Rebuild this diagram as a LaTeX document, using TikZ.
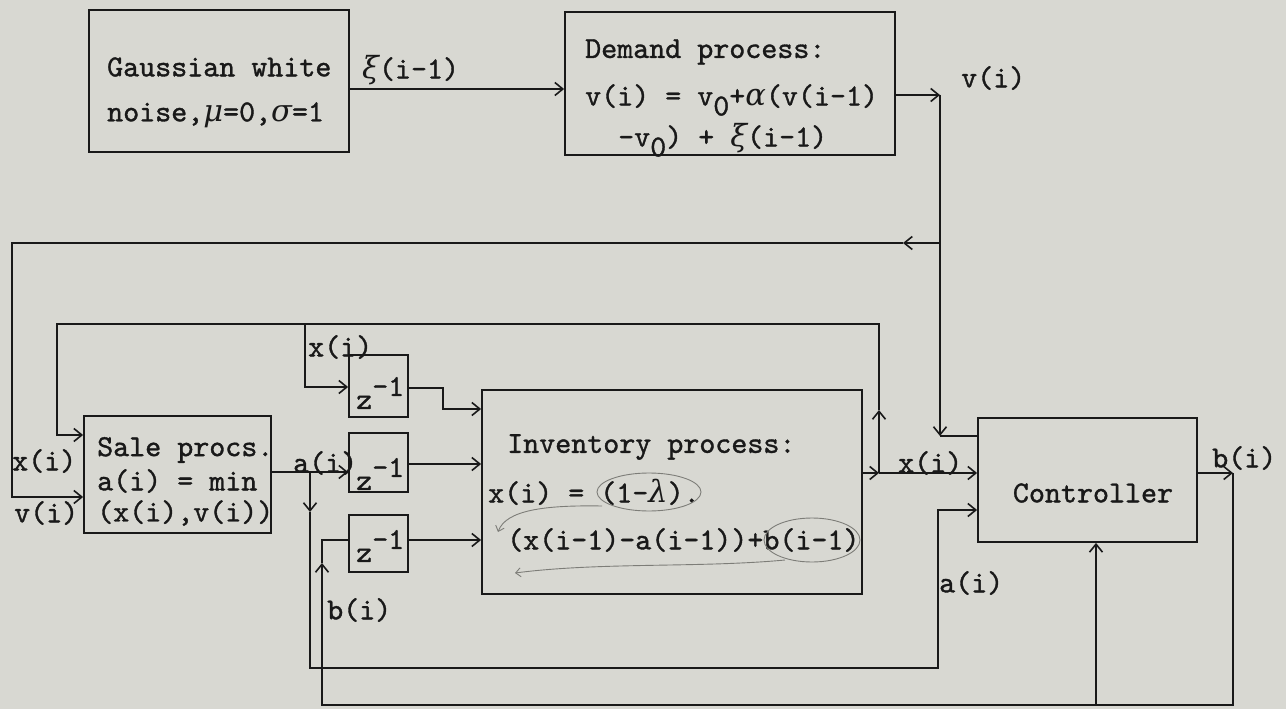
\documentclass[tikz,border=0pt]{standalone}
\usepackage{fontspec}
\usetikzlibrary{arrows.meta}
\newfontfamily\twfont{lmmono10-regular.otf}[FakeBold=1.2]
\newfontfamily\gk{DejaVu Serif}
\newcommand\tws{\twfont\fontsize{30.5pt}{36pt}\selectfont}
\newcommand\gr[1]{{\gk\itshape #1}}
\definecolor{paper}{RGB}{216,216,210}
\definecolor{ink}{RGB}{25,25,25}
\definecolor{pencilc}{RGB}{125,125,120}
\tikzset{
  box/.style={draw=ink, line width=1.8pt, rectangle, inner sep=0pt},
  txt/.style={inner sep=0pt, anchor=west, font=\tws, text=ink},
  wire/.style={draw=ink, line width=1.6pt},
  arr/.style={wire, -{Straight Barb[length=8pt,width=13pt,line width=1.6pt]}},
  pencil/.style={draw=pencilc, line width=0.9pt},
  parr/.style={pencil, -{Straight Barb[length=5pt,width=9pt,line width=0.9pt]}}
}
\begin{document}
\begin{tikzpicture}[x=1pt,y=-1pt]
\fill[paper] (0,0) rectangle (1286,709);
\useasboundingbox (0,0) rectangle (1286,709);

% boxes
\node[box, minimum width=260pt, minimum height=142pt] (gauss) at (219,81) {};
\node[box, minimum width=330pt, minimum height=143pt] (demand) at (730,83.5) {};
\node[box, minimum width=187pt, minimum height=117pt] (sale) at (177.5,474.5) {};
\node[box, minimum width=59pt, minimum height=62pt] (z1) at (378.5,386) {};
\node[box, minimum width=59pt, minimum height=59pt] (z2) at (378.5,462.5) {};
\node[box, minimum width=59pt, minimum height=57pt] (z3) at (378.5,543.5) {};
\node[box, minimum width=380pt, minimum height=204pt] (inv) at (672,492) {};
\node[box, minimum width=219pt, minimum height=124pt] (ctrl) at (1087.5,480) {};

% box texts
\node[txt] (g1) at (107,67) {Gaussian white};
\node[txt] (g2) at (107,115) {noise,\gr{μ}=0,\gr{σ}=1};
\node[txt] (d1) at (585,52) {Demand process:};
\node[txt] (d2) at (585,100) {v(i) = v\raisebox{-10pt}{0}+\gr{α}(v(i-1)};
\node[txt] (d3) at (618,140) {-v\raisebox{-10pt}{0}) + \gr{ξ}(i-1)};
\node[txt] (s1) at (97,450) {Sale procs.};
\node[txt] (s2) at (97,481) {a(i) = min};
\node[txt] (s3) at (97,513) {(x(i),v(i))};
\node[txt] (z1t) at (356,393) {z\raisebox{13pt}{-1}};
\node[txt] (z2t) at (356,474) {z\raisebox{13pt}{-1}};
\node[txt] (z3t) at (356,546) {z\raisebox{13pt}{-1}};
\node[txt] (i1) at (507,447) {Inventory process:};
\node[txt] (i2) at (488,492) {x(i) = (1-\gr{λ}).};
\node[txt] (i3) at (507,540) {(x(i-1)-a(i-1))+b(i-1)};
\node[txt, anchor=center] (c1) at (1093,493) {Controller};

% signal labels
\node[txt] (lxi) at (362,70) {\gr{ξ}(i-1)};
\node[txt] (lv) at (961,78) {v(i)};
\node[txt] (lxz) at (308,347) {x(i)};
\node[txt] (lxs) at (12,461) {x(i)};
\node[txt] (lvs) at (14,513) {v(i)};
\node[txt] (las) at (293,463) {a(i)};
\node[txt] (lbz) at (327,610) {b(i)};
\node[txt] (lxc) at (898,463) {x(i)};
\node[txt] (lac) at (939,583) {a(i)};
\node[txt] (lbc) at (1212,458) {b(i)};

% junction coordinates
\coordinate (n1) at (0,89);
\coordinate (vj) at (940,95);
\coordinate (vc) at (940,436);
\coordinate (fb1) at (940,243);
\coordinate (fbm) at (903,243);
\coordinate (fb2) at (12,243);
\coordinate (fb3) at (12,497);
\coordinate (xj) at (879,473);
\coordinate (xu) at (879,410);
\coordinate (xl1) at (879,324);
\coordinate (xl2) at (57,324);
\coordinate (xl3) at (57,435);
\coordinate (xb1) at (305,324);
\coordinate (xb2) at (305,387);
\coordinate (aj) at (310,472);
\coordinate (ad) at (310,512);
\coordinate (ab1) at (310,668);
\coordinate (ab2) at (938,668);
\coordinate (ab3) at (938,510);
\coordinate (z1a) at (443,388);
\coordinate (z1b) at (443,409);
\coordinate (z2o) at (420,464);
\coordinate (z3o) at (420,540);
\coordinate (bj) at (1233,473);
\coordinate (bb1) at (1233,705);
\coordinate (bb2) at (322,705);
\coordinate (bu) at (322,563);
\coordinate (bb3) at (322,540);
\coordinate (cb) at (1096,705);

% connectors
\draw[arr] (gauss.east |- n1) -- (demand.west |- n1);
\draw[arr] (demand.east |- vj) -- (vj);
\draw[arr] (vj) -- (vc);
\draw[wire] (vc) -- (ctrl.west |- vc);
\draw[arr] (fb1) -- (fbm);
\draw[arr] (fbm) -- (fb2) -- (fb3) -- (sale.west |- fb3);
\draw[arr] (inv.east |- xj) -- (xj);
\draw[arr] (xj) -- (ctrl.west |- xj);
\draw[arr] (xj) -- (xu);
\draw[arr] (xu) -- (xl1) -- (xl2) -- (xl3) -- (sale.west |- xl3);
\draw[arr] (xb1) -- (xb2) -- (z1.west |- xb2);
\draw[arr] (sale.east |- aj) -- (z2.west |- aj);
\draw[arr] (aj) -- (ad);
\draw[arr] (ad) -- (ab1) -- (ab2) -- (ab3) -- (ctrl.west |- ab3);
\draw[arr] (z1.east |- z1a) -- (z1a) -- (z1b) -- (inv.west |- z1b);
\draw[arr] (z2.east |- z2o) -- (inv.west |- z2o);
\draw[arr] (z3.east |- z3o) -- (inv.west |- z3o);
\draw[arr] (ctrl.east |- bj) -- (bj);
\draw[arr] (bj) -- (bb1) -- (bb2) -- (bu);
\draw[wire] (bu) -- (bb3) -- (z3.west |- bb3);
\draw[arr] (cb) -- (ctrl.south -| cb);

% pencil annotations
\draw[pencil] (649,492) ellipse [x radius=52, y radius=19];
\draw[parr] (602,506) .. controls (545,505) and (506,510) .. (498,532);
\draw[pencil] (812,540) ellipse [x radius=48, y radius=22];
\draw[parr] (785,560) .. controls (700,568) and (600,562) .. (515,573);
\end{tikzpicture}
\end{document}
